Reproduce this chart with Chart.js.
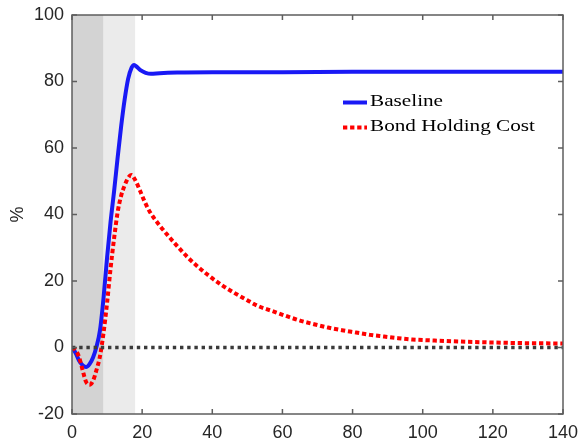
<!DOCTYPE html>
<html>
<head>
<meta charset="utf-8">
<script src="https://cdn.jsdelivr.net/npm/chart.js@4.4.1/dist/chart.umd.min.js"></script>
<style>
  html, body { margin: 0; padding: 0; background: #ffffff; }
  canvas { display: block; }
</style>
</head>
<body>
<canvas id="irf" width="582" height="446"></canvas>
<script>
// Quarters after the shock and the response (in %) of each scenario
const baselinePeriods = [0, 1, 2, 3, 4, 5, 6, 7, 8, 9, 10, 11, 12, 13, 14, 15, 16, 17, 17.7, 18.5, 19.5, 21, 22.5, 25, 30, 40, 60, 80, 100, 120, 140];
const baselineValues  = [0, -1.6, -3.9, -5.3, -5.9, -5.0, -3.0, 0.3, 5.3, 15.0, 27.0, 37.8, 47.0, 57.0, 66.4, 74.5, 80.8, 84.2, 85.0, 84.4, 83.4, 82.6, 82.3, 82.5, 82.7, 82.8, 82.8, 82.9, 82.9, 82.9, 82.9];

const bondPeriods = [0, 1, 2, 3, 4, 5, 6, 7, 8, 9, 10, 11, 12, 13, 14, 15, 16, 16.9, 18, 19.5, 20.7, 22.3, 25, 27.5, 30, 33, 36, 39, 42.5, 46, 50, 53, 57, 61, 65, 69, 73, 77, 81, 85, 89, 93, 97, 101, 110, 120, 130, 140];
const bondValues  = [0, -0.8, -2.8, -6.7, -10.3, -11.2, -10.0, -6.7, -2.5, 4.5, 13.4, 23.8, 32.8, 40.6, 45.6, 48.7, 51.0, 51.9, 50.4, 46.9, 43.9, 40.6, 36.7, 33.5, 30.5, 27.1, 24.2, 21.6, 18.9, 16.6, 14.2, 12.5, 11.0, 9.5, 8.1, 7.0, 6.0, 5.2, 4.5, 3.8, 3.3, 2.8, 2.4, 2.2, 1.8, 1.5, 1.3, 1.2];

const zeroPeriods = [0, 140];
const zeroValues  = [0, 0];

// Shaded periods: [start, end]
const darkBand  = [0, 9];
const lightBand = [9, 18];

const seriesNames = ['Baseline', 'Bond Holding Cost'];
const xTickValues = [0, 20, 40, 60, 80, 100, 120, 140];
const yTickValues = [-20, 0, 20, 40, 60, 80, 100];

const toPoints = (xs, ys) => xs.map((x, i) => ({ x: x, y: ys[i] }));

const SANS = '"Liberation Sans", Arial, Helvetica, sans-serif';
const SERIF = '"Liberation Serif", "DejaVu Serif", serif';
const TEXT = '#262626';
const AXIS = '#5e5e5e';

const styles = {
  blue: { color: 'rgb(25,25,245)', width: 4, dash: [] },
  red:  { color: 'rgb(255,0,0)', width: 4, dash: [4.3, 2.8] },
  zero: { color: '#3a3a3a', width: 3.3, dash: [3.4, 3.8] }
};

// Grey bands behind the curves
const bandsPlugin = {
  id: 'bands',
  beforeDatasetsDraw(chart) {
    const { ctx, chartArea: a, scales: { x } } = chart;
    ctx.save();
    ctx.fillStyle = 'rgb(211,211,211)';
    const d0 = x.getPixelForValue(darkBand[0]), d1 = x.getPixelForValue(darkBand[1]);
    ctx.fillRect(d0, a.top, d1 - d0, a.bottom - a.top);
    ctx.fillStyle = 'rgb(235,235,235)';
    const l0 = x.getPixelForValue(lightBand[0]), l1 = x.getPixelForValue(lightBand[1]);
    ctx.fillRect(l0, a.top, l1 - l0, a.bottom - a.top);
    ctx.restore();
  }
};

// Boxed axes with inward tick marks on all four sides
const boxPlugin = {
  id: 'box',
  afterDatasetsDraw(chart) {
    const { ctx, chartArea: a, scales: { x, y } } = chart;
    const len = 5;
    ctx.save();
    ctx.strokeStyle = AXIS;
    ctx.lineWidth = 1.5;
    ctx.beginPath();
    x.ticks.forEach(t => {
      const px = x.getPixelForValue(t.value);
      ctx.moveTo(px, a.bottom); ctx.lineTo(px, a.bottom - len);
      ctx.moveTo(px, a.top); ctx.lineTo(px, a.top + len);
    });
    y.ticks.forEach(t => {
      const py = y.getPixelForValue(t.value);
      ctx.moveTo(a.left, py); ctx.lineTo(a.left + len, py);
      ctx.moveTo(a.right, py); ctx.lineTo(a.right - len, py);
    });
    ctx.stroke();
    ctx.strokeRect(a.left, a.top, a.right - a.left, a.bottom - a.top);
    ctx.restore();
  }
};

// Legend drawn inside the plot area
const legendPlugin = {
  id: 'inlineLegend',
  afterDraw(chart) {
    const { ctx } = chart;
    const x0 = 343, x1 = 367, textX = 370;
    const rows = [102.5, 127.5];
    ctx.save();
    ctx.font = '16.5px ' + SERIF;
    const widest = ctx.measureText(seriesNames[1]).width;
    const sx = 165 / widest;
    chart.data.datasets.filter(ds => seriesNames.includes(ds.label)).forEach((ds, i) => {
      ctx.save();
      ctx.strokeStyle = ds.borderColor;
      ctx.lineWidth = ds.borderWidth;
      ctx.setLineDash(ds.borderDash || []);
      ctx.lineCap = 'butt';
      ctx.beginPath();
      ctx.moveTo(x0, rows[i]);
      ctx.lineTo(x1, rows[i]);
      ctx.stroke();
      ctx.restore();
      ctx.save();
      ctx.fillStyle = '#000000';
      ctx.textBaseline = 'middle';
      ctx.textAlign = 'left';
      ctx.translate(textX, rows[i] - 1);
      ctx.scale(sx, 1);
      ctx.fillText(ds.label, 0, 0);
      ctx.restore();
    });
    ctx.restore();
  }
};

new Chart(document.getElementById('irf'), {
  type: 'line',
  data: {
    datasets: [
      {
        label: seriesNames[0],
        data: toPoints(baselinePeriods, baselineValues),
        borderColor: styles.blue.color,
        borderWidth: styles.blue.width,
        borderDash: styles.blue.dash,
        borderJoinStyle: 'round',
        cubicInterpolationMode: 'monotone',
        pointRadius: 0,
        order: 2
      },
      {
        label: seriesNames[1],
        data: toPoints(bondPeriods, bondValues),
        borderColor: styles.red.color,
        borderWidth: styles.red.width,
        borderDash: styles.red.dash,
        borderCapStyle: 'butt',
        cubicInterpolationMode: 'monotone',
        pointRadius: 0,
        order: 1
      },
      {
        label: 'zero',
        data: toPoints(zeroPeriods, zeroValues),
        borderColor: styles.zero.color,
        borderWidth: styles.zero.width,
        borderDash: styles.zero.dash,
        borderCapStyle: 'butt',
        pointRadius: 0,
        order: 0
      }
    ]
  },
  options: {
    responsive: false,
    devicePixelRatio: 1,
    animation: false,
    layout: { padding: { top: 15, right: 19, bottom: 0, left: 0 } },
    plugins: { legend: { display: false }, tooltip: { enabled: false } },
    scales: {
      x: {
        type: 'linear',
        min: 0,
        max: 140,
        afterBuildTicks(s) { s.ticks = xTickValues.map(v => ({ value: v })); },
        ticks: { color: TEXT, padding: 8, maxRotation: 0, font: { family: SANS, size: 18 } },
        grid: { display: false, drawTicks: false },
        border: { display: false },
        afterFit(s) { s.height = 32; s.paddingLeft = 0; s.paddingRight = 0; }
      },
      y: {
        type: 'linear',
        min: -20,
        max: 100,
        afterBuildTicks(s) { s.ticks = yTickValues.map(v => ({ value: v })); },
        ticks: { color: TEXT, padding: 8, font: { family: SANS, size: 18 } },
        grid: { display: false, drawTicks: false },
        border: { display: false },
        title: { display: true, text: '%', color: TEXT, font: { family: SANS, size: 18 }, padding: { top: 7, bottom: 0 } },
        afterFit(s) { s.width = 72; s.paddingTop = 0; s.paddingBottom = 0; }
      }
    }
  },
  plugins: [bandsPlugin, boxPlugin, legendPlugin]
});
</script>
</body>
</html>
